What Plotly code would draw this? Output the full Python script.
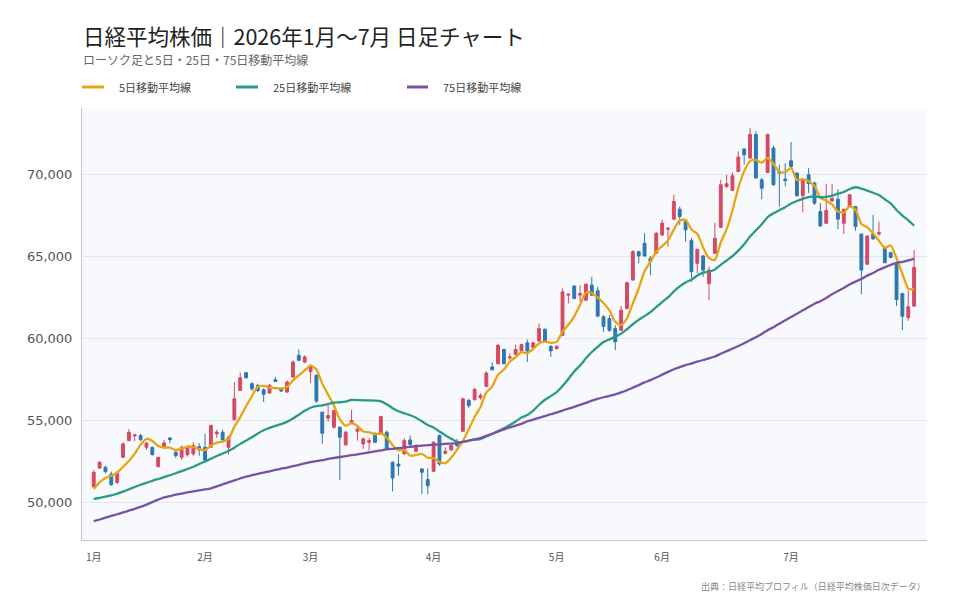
import pandas as pd
import plotly.graph_objects as go

# ---------------- data ----------------
holidays = ["2026-01-01", "2026-01-02", "2026-01-12", "2026-02-11", "2026-02-23",
            "2026-03-20", "2026-04-29", "2026-05-04", "2026-05-05", "2026-05-06",
            "2026-07-20"]
dates = [d.strftime("%Y-%m-%d") for d in pd.bdate_range("2026-01-01", "2026-07-31")
         if d.strftime("%Y-%m-%d") not in holidays]

opens = [50980,52120,52160,51750,51240,52770,53790,54080,54100,53380,
         53380,52200,53380,53950,53080,52770,52940,52980,53420,53380,
         53380,54200,54300,53380,55060,56850,57930,57260,57160,56890,
         56690,57500,56950,56750,57670,58990,58580,58000,57770,55520,
         55160,54610,54610,53530,54910,54360,53590,53690,54140,54200,
         54300,52470,52360,52980,53830,53140,52060,51420,51920,54100,
         53020,53220,53690,54360,56240,56280,56400,57090,58280,58480,
         59340,58830,59050,59260,59750,59460,59870,60580,59540,59400,
         60210,62660,63210,62660,62350,63270,62930,61340,61230,60620,
         60520,61850,63580,65310,65820,64900,65210,66330,66680,67290,
         67900,67150,65980,64600,65050,63370,65210,66800,69290,69040,
         70200,71570,71020,72450,69690,70140,71630,70200,69740,70850,
         70100,68720,70000,69490,67760,67040,68400,68510,67040,68060,
         68060,66390,64550,66390,66390,65570,65250,64640,62760,61290,
         61990]
highs = [52000,52530,52260,51900,51920,53690,54500,54170,54200,53690,
         53420,52810,53830,54000,53180,53490,53490,53690,53630,54200,
         54770,54450,54450,54100,57360,57930,57970,57360,57260,56990,
         57260,57670,57050,57460,58690,59340,58990,58450,57830,55570,
         55930,55670,54650,54400,55670,54710,54000,53950,54300,55260,
         54400,52530,52980,53950,54100,53590,52120,52100,53750,54160,
         53380,53590,53890,56400,56340,57010,56690,58010,58580,59700,
         59400,59130,59640,59700,59950,59810,60930,60620,59600,59600,
         63070,62760,63270,63270,63370,63780,63170,61440,61440,60830,
         61990,63480,65410,65370,66430,65050,66530,67250,66800,68780,
         68060,67250,66130,65510,65110,64390,67080,69690,70000,70140,
         71430,71630,72850,72650,69800,72510,71770,70610,70710,72000,
         70140,69730,70410,69590,68270,69450,69450,69120,67900,68820,
         68100,66390,66310,67550,67150,65660,65310,64700,62800,62920,
         65410]
lows = [50900,52060,51790,51040,51140,52730,53750,53750,53750,53220,
        52870,52160,53280,53630,52730,52610,52810,52870,52870,52500,
        53340,53950,53790,52940,55010,56810,57580,56810,56750,56140,
        56650,57360,56750,56690,57620,58650,58520,57300,56080,53590,
        54910,54510,51390,53490,54850,53790,53280,53180,53630,54160,
        53220,50690,51650,52930,53380,53080,50530,50530,51860,52260,
        52930,53180,53380,54320,55770,56240,56280,57050,58070,58440,
        58440,58720,58990,59190,58580,59400,59810,59810,58890,59340,
        60150,62150,62400,62250,62310,62600,61340,60420,60420,59300,
        60480,61780,63540,64600,65000,63880,65170,66270,65620,67250,
        66940,65920,63480,63990,63780,62350,65170,66740,69180,69000,
        70160,70610,70980,69760,68510,70100,69330,68060,69290,70470,
        68670,67700,68880,68160,66840,67000,68350,66680,66390,68020,
        66590,62720,64490,66020,66270,64600,64900,61990,60520,61090,
        61950]
closes = [51850,52470,51900,51100,51850,53590,54300,54140,53850,53630,
          52940,52770,53650,53850,52880,53380,53380,53490,53220,52600,
          54710,54300,53830,54000,56340,57620,57620,56950,56850,56610,
          57160,57400,56810,57360,58580,58690,58890,58300,56200,54240,
          55320,55630,54000,54300,55020,54500,53890,53790,53690,55260,
          53280,51510,52240,53790,53550,53490,51860,51040,53690,52360,
          53140,53490,53490,56340,55930,56910,56540,57910,58110,59600,
          58480,58890,59340,59640,59260,59750,60620,59870,59260,59540,
          62860,62720,62460,62760,63330,62660,61380,60760,60520,59810,
          61740,63420,65310,65050,65050,64700,66430,67050,66740,68370,
          67450,66640,64090,65450,64190,64190,66130,69390,69450,69940,
          71080,71220,72450,69800,69180,72450,69390,70100,69650,70510,
          68720,69690,69450,68270,66880,67820,68550,67290,67900,68780,
          66840,64190,66270,66100,66470,64640,64960,62390,61370,61950,
          64350]

# moving-average values at the start of the period (window reaches back into 2025),
# read off the chart
ma5_head = [50840, 51240, 51510, 51650]
ma25_head = [50230,50300,50370,50450,50550,50680,50820,50960,51100,51220,51340,51450,
             51560,51680,51800,51930,52060,52200,52360,52520,52680,52850,53000,53160]
ma75_head = [48880,48980,49090,49200,49300,49410,49520,49630,49750,49890,
             50040,50190,50330,50410,50490,50560,50630,50690,50750,50810,
             50880,51000,51120,51240,51360,51480,51600,51680,51760,51840,
             51920,52000,52080,52150,52230,52310,52400,52480,52540,52600,
             52670,52730,52790,52840,52900,52950,53010,53070,53130,53190,
             53250,53290,53330,53370,53410,53450,53480,53520,53540,53560,
             53590,53610,53640,53710,53790,53870,53950,54080,54210,54340,
             54470,54600,54700,54810]

month_labels = ["1月", "2月", "3月", "4月", "5月", "6月", "7月"]
y_ticks = [50000, 55000, 60000, 65000, 70000]

series_names = ["5日移動平均線", "25日移動平均線", "75日移動平均線"]
series_colors = ["#e8a512", "#2a9a86", "#7a52a3"]


def moving_average(head, n):
    out = list(head)
    for i in range(len(head), len(closes)):
        out.append(sum(closes[i - n + 1:i + 1]) / n)
    return out


ma_series = [moving_average(ma5_head, 5), moving_average(ma25_head, 25),
             moving_average(ma75_head, 75)]

month_first = []
seen = set()
for d in dates:
    if d[:7] not in seen:
        seen.add(d[:7])
        month_first.append(d)

RED = "#d44a62"
BLUE = "#2d77b3"
FONT = "Noto Sans CJK JP"

fig = go.Figure()
fig.add_trace(go.Candlestick(
    x=dates, open=opens, high=highs, low=lows, close=closes,
    increasing=dict(line=dict(color=RED, width=1), fillcolor=RED),
    decreasing=dict(line=dict(color=BLUE, width=1), fillcolor=BLUE),
    whiskerwidth=0, showlegend=False, name="日経平均株価"))

for name, color, vals in zip(series_names, series_colors, ma_series):
    fig.add_trace(go.Scatter(
        x=dates, y=vals, mode="lines", name=name,
        line=dict(color=color, width=2.3, shape="spline", smoothing=0.6),
        showlegend=False))

# page has an 8px body margin: figure drawn at (8, 8) in the 960x600 window
OFF = 8
FW, FH = 960 - 2 * OFF, 600 - 2 * OFF
# plot area in window pixels: 82..927 x 108..540
L, R, T, B = 82 - OFF, FW + OFF - 927, 108 - OFF, FH + OFF - 540
PW, PH = FW - L - R, FH - T - B


def px(x):
    return (x - OFF - L) / PW


def py(y):
    return (FH - B - (y - OFF)) / PH


shapes = []
annotations = []
legend_pos = [(82, 104, 117), (236, 258, 271), (407, 428, 441)]
for (x0, x1, xt), name, color in zip(legend_pos, series_names, series_colors):
    shapes.append(dict(type="line", xref="paper", yref="paper",
                       x0=px(x0), x1=px(x1), y0=py(87), y1=py(87),
                       line=dict(color=color, width=3)))
    annotations.append(dict(xref="paper", yref="paper", x=px(xt), y=py(87),
                            text=name, showarrow=False, xanchor="left", yanchor="middle",
                            font=dict(family=FONT, size=11, color="#444444")))

annotations.append(dict(xref="paper", yref="paper", x=px(81), y=py(35),
                        text="日経平均株価｜2026年1月〜7月 日足チャート", showarrow=False,
                        xanchor="left", yanchor="middle",
                        font=dict(family=FONT, size=21.5, color="#222222")))
annotations.append(dict(xref="paper", yref="paper", x=px(81), y=py(59),
                        text="ローソク足と5日・25日・75日移動平均線", showarrow=False,
                        xanchor="left", yanchor="middle",
                        font=dict(family=FONT, size=12, color="#666666")))
annotations.append(dict(xref="paper", yref="paper", x=px(928), y=py(586),
                        text="出典：日経平均プロフィル（日経平均株価日次データ）", showarrow=False,
                        xanchor="right", yanchor="middle",
                        font=dict(family=FONT, size=9, color="#888888")))

fig.update_layout(
    width=FW, height=FH,
    margin=dict(l=L, r=R, t=T, b=B),
    paper_bgcolor="white", plot_bgcolor="#f8f9fc",
    font=dict(family=FONT, color="#555555"),
    shapes=shapes, annotations=annotations,
    hovermode="x",
    xaxis=dict(type="category", range=[-2, len(dates) + 1.2],
               tickvals=month_first, ticktext=month_labels,
               showgrid=False, showline=True, linecolor="#c4c8ce", linewidth=1,
               ticks="", ticklabelstandoff=8,
               tickfont=dict(family=FONT, size=10, color="#555555"),
               rangeslider=dict(visible=False)),
    yaxis=dict(range=[47730, 74070], tickvals=y_ticks, tickformat=",d",
               showgrid=True, gridcolor="#e3e6ea", gridwidth=1,
               showline=True, linecolor="#c4c8ce", linewidth=1, zeroline=False,
               ticks="", ticklabelstandoff=6,
               tickfont=dict(family="DejaVu Sans", size=13, color="#555555")),
)

fig.write_html("out.html")
